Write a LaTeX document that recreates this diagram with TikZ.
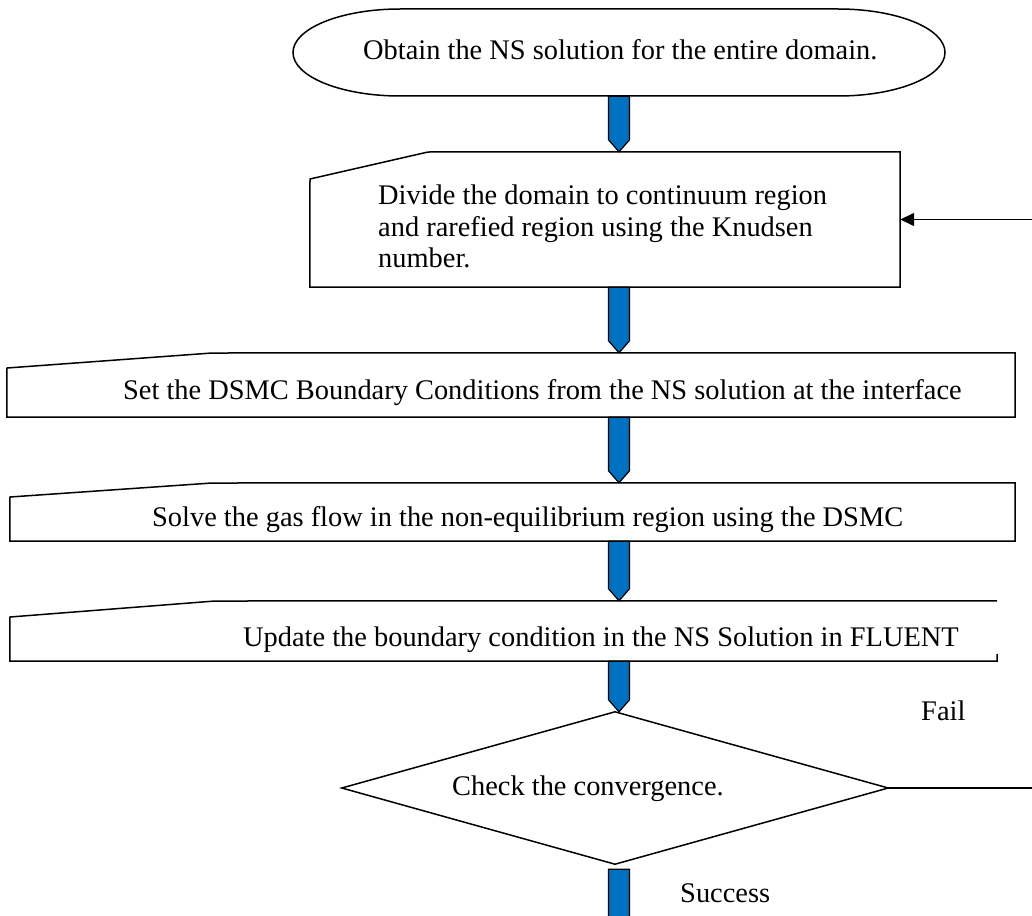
\documentclass[tikz,border=0pt]{standalone}
\usepackage{fontspec}
\setmainfont{Liberation Serif}
\usetikzlibrary{calc,fit,arrows.meta}
\definecolor{arrowblue}{RGB}{0,112,192}
\tikzset{
  box/.style={draw=black, line width=1.5pt, line join=miter},
  txt/.style={inner sep=0pt, font=\fontsize{28.4}{31.5}\selectfont, anchor=base west},
  barrow/.style={draw=black, line width=1.2pt, fill=arrowblue, line join=miter},
  fb/.style={draw=black, line width=1.5pt, -{Triangle[length=14pt,width=13pt]}},
  area/.style={inner sep=0pt}
}
\newcommand\blockarr[2]{\path[barrow] let \p1=#1, \p2=#2 in
  (\x1-10.5pt,\y1) -- (\x1+10.5pt,\y1) -- (\x1+10.5pt,\y2+12pt) -- (\x1,\y2) -- (\x1-10.5pt,\y2+12pt) -- cycle;}
\begin{document}
\begin{tikzpicture}[x=1pt,y=-1pt]
\clip (0,0) rectangle (1032,915);
\fill[white] (0,0) rectangle (1032,915);
% areas of the shapes
\node[area, fit={(293,9)(945,96)}] (start) {};
\node[area, fit={(310,152)(900,287)}] (divide) {};
\node[area, fit={(7,353)(1015,417)}] (setbc) {};
\node[area, fit={(10,483)(1015,541)}] (solve) {};
\node[area, fit={(10,601)(997,661)}] (update) {};
\node[area, fit={(342,712)(888,864)}] (check) {};
\coordinate (ax) at (619,0);
\coordinate (bottomend) at (619,935);
% outlines
\draw[box] (400,9) -- (838,9) arc[start angle=90, end angle=-90, x radius=107pt, y radius=43.5pt]
  -- (400,96) arc[start angle=270, end angle=90, x radius=107pt, y radius=43.5pt] -- cycle;
\draw[box] (divide.south west) -- (310,179) -- (428,152) -- (divide.north east) -- (divide.south east) -- cycle;
\draw[box] (setbc.south west) -- (7,368) -- (212,353) -- (setbc.north east) -- (setbc.south east) -- cycle;
\draw[box] (solve.south west) -- (10,497) -- (212,483) -- (solve.north east) -- (solve.south east) -- cycle;
\draw[box] (997,654) -- (update.south east) -- (update.south west) -- (10,617) -- (215,601) -- (update.north east);
\draw[box] (check.north) -- (check.east) -- (check.south) -- (check.west) -- cycle;
% texts
\node[txt] (starttext) at (363,60) {Obtain the NS solution for the entire domain.};
\node[txt, anchor=north west, align=left] (dividetext) at (378,185) {Divide the domain to continuum region\\and rarefied region using the Knudsen\\number.};
\node[txt] (settext) at (123,399) {Set the DSMC Boundary Conditions from the NS solution at the interface};
\node[txt] (solvetext) at (152,526) {Solve the gas flow in the non-equilibrium region using the DSMC};
\node[txt] (updatetext) at (243,646) {Update the boundary condition in the NS Solution in FLUENT};
\node[txt] (checktext) at (452,795) {Check the convergence.};
\node[txt] (fail) at (921,720) {Fail};
\node[txt] (success) at (680,902) {Success};
% block arrows
\blockarr{(ax |- start.south)}{(ax |- divide.north)}
\blockarr{(ax |- divide.south)}{(ax |- setbc.north)}
\blockarr{(ax |- setbc.south)}{(ax |- solve.north)}
\blockarr{(ax |- solve.south)}{(ax |- update.north)}
\blockarr{(ax |- update.south)}{(ax |- check.north)}
\blockarr{($(ax |- check.south)+(0,5)$)}{(bottomend)}
% feedback connector
\draw[fb] (check.east) -- (1045,788) |- (divide.east);
\end{tikzpicture}
\end{document}
